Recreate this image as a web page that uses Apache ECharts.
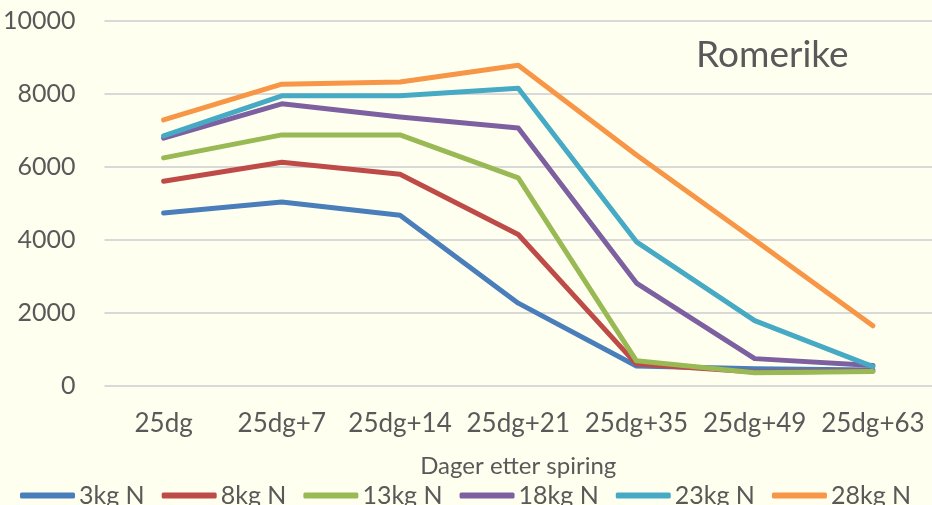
<!DOCTYPE html>
<html><head><meta charset="utf-8">
<script src="https://cdn.jsdelivr.net/npm/echarts@6/dist/echarts.min.js"></script>
<style>html,body{margin:0;padding:0;background:#fffff0;}#c{width:932px;height:505px;}</style>
</head><body><div id="c"></div>
<script>
var categories = ['25dg','25dg+7','25dg+14','25dg+21','25dg+35','25dg+49','25dg+63'];
var seriesNames = ['3kg N','8kg N','13kg N','18kg N','23kg N','28kg N'];
var s3 = [4740, 5040, 4680, 2270, 550, 470, 440];
var s8 = [5610, 6130, 5800, 4150, 600, 380, 410];
var s13 = [6250, 6880, 6880, 5700, 690, 360, 400];
var s18 = [6790, 7730, 7370, 7070, 2820, 750, 560];
var s23 = [6850, 7950, 7950, 8160, 3950, 1790, 530];
var s28 = [7290, 8270, 8330, 8790, 6330, 4000, 1650];
var yTicks = [0, 2000, 4000, 6000, 8000, 10000];
var colors = ['#4a7ebb','#be4b48','#98b954','#7d60a0','#46aac5','#f79646'];
var allData = [s3, s8, s13, s18, s23, s28];
var font = 'Lato, "Open Sans", sans-serif';
var chart = echarts.init(document.getElementById('c'));
chart.setOption({
  backgroundColor: '#fffff0',
  animation: false,
  title: {text: 'Romerike', left: 691, top: 32, textStyle: {fontFamily: font, fontSize: 37, fontWeight: 'normal', color: '#595959'}},
  grid: {left: 103, top: 21, width: 833, height: 365},
  legend: {
    left: 20, top: 483, itemWidth: 55, itemHeight: 6, itemGap: 17,
    icon: 'roundRect', padding: 0,
    textStyle: {fontFamily: font, fontSize: 25, color: '#595959', padding: [0,0,0,-1]},
    data: seriesNames
  },
  xAxis: {
    type: 'category', data: categories, boundaryGap: true,
    axisLine: {show: false}, axisTick: {show: false},
    axisLabel: {fontFamily: font, fontSize: 26, color: '#595959', margin: 25, interval: 0, hideOverlap: false},
    name: 'Dager etter spiring', nameLocation: 'middle', nameGap: 68,
    nameTextStyle: {fontFamily: font, fontSize: 24, color: '#595959'}
  },
  yAxis: {
    type: 'value', min: yTicks[0], max: yTicks[yTicks.length-1], interval: 2000,
    axisLine: {show: false}, axisTick: {show: false},
    axisLabel: {fontFamily: font, fontSize: 25, color: '#595959', margin: 29,
      formatter: function(v){ return String(v); }},
    splitLine: {lineStyle: {color: '#d9d9d9', width: 2}}
  },
  series: seriesNames.map(function(n, i){
    return {name: n, type: 'line', data: allData[i], symbol: 'none',
      lineStyle: {color: colors[i], width: 5, cap: 'round', join: 'round'},
      itemStyle: {color: colors[i]}};
  })
});
</script></body></html>
